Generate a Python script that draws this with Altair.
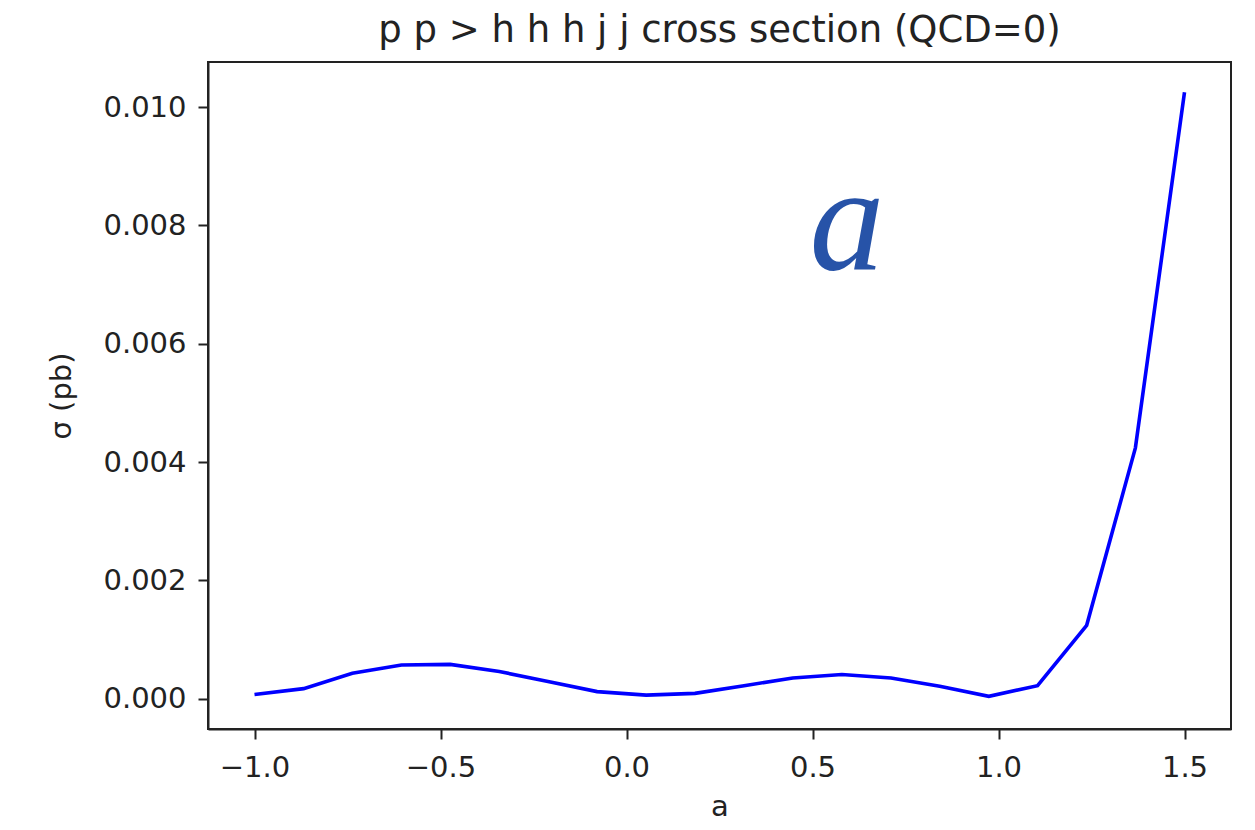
import altair as alt
import pandas as pd

# Scanned coupling values and the corresponding cross sections
a_values = [-1.0, -0.868, -0.737, -0.605, -0.474, -0.342, -0.211, -0.079,
            0.053, 0.184, 0.316, 0.447, 0.579, 0.711, 0.842, 0.974,
            1.105, 1.237, 1.368, 1.5]
sigma_pb = [0.00007, 0.00017, 0.00043, 0.00057, 0.00058, 0.00046, 0.00029,
            0.00012, 0.00006, 0.00009, 0.00022, 0.00035, 0.00041, 0.00035,
            0.00021, 0.00004, 0.00022, 0.00124, 0.00424, 0.01025]

x_ticks = [-1.0, -0.5, 0.0, 0.5, 1.0, 1.5]
y_ticks = [0.000, 0.002, 0.004, 0.006, 0.008, 0.010]

# Panel letter placed in data coordinates
label_text = ["a"]
label_a = [0.593]
label_sigma = [0.00726]

curve = pd.DataFrame({"a": a_values, "sigma": sigma_pb})
panel = pd.DataFrame({"a": label_a, "sigma": label_sigma, "txt": label_text})

x_scale = alt.Scale(domain=[-1.125, 1.625], nice=False, zero=False)
y_scale = alt.Scale(domain=[-0.000512, 0.010762], nice=False, zero=False)

line = alt.Chart(curve).mark_line(color="#0000ff", strokeWidth=3.6).encode(
    x=alt.X("a:Q", scale=x_scale,
            axis=alt.Axis(title="a", values=x_ticks, format=".1f")),
    y=alt.Y("sigma:Q", scale=y_scale,
            axis=alt.Axis(title="σ (pb)", values=y_ticks, format=".3f")),
)

letter = alt.Chart(panel).mark_text(
    font="Liberation Serif", fontStyle="italic", fontSize=150,
    color="#2753A8", align="center", baseline="alphabetic",
).encode(
    x=alt.X("a:Q", scale=x_scale),
    y=alt.Y("sigma:Q", scale=y_scale),
    text="txt:N",
)

chart = alt.layer(line, letter).properties(
    width=1023,
    height=667,
    title=alt.Title("p p > h h h j j cross section (QCD=0)"),
    autosize=alt.AutoSizeParams(type="none"),
    padding={"left": 208, "top": 62, "right": 24, "bottom": 101},
    background="white",
).configure_view(
    stroke="#222222", strokeWidth=2,
).configure_axis(
    grid=False,
    domainColor="#222222", domainWidth=2,
    tickColor="#222222", tickWidth=2, tickSize=10,
    labelFont="DejaVu Sans", labelFontSize=29, labelColor="#222222",
    titleFont="DejaVu Sans", titleFontSize=29, titleColor="#222222",
    titleFontWeight="normal",
).configure_axisX(
    labelPadding=14, titlePadding=10,
).configure_axisY(
    labelPadding=12, titlePadding=26,
).configure_title(
    font="DejaVu Sans", fontSize=37, fontWeight="normal", color="#222222",
    anchor="middle", offset=12,
)

chart.save("out.html", embed_options={"renderer": "svg", "actions": False})
